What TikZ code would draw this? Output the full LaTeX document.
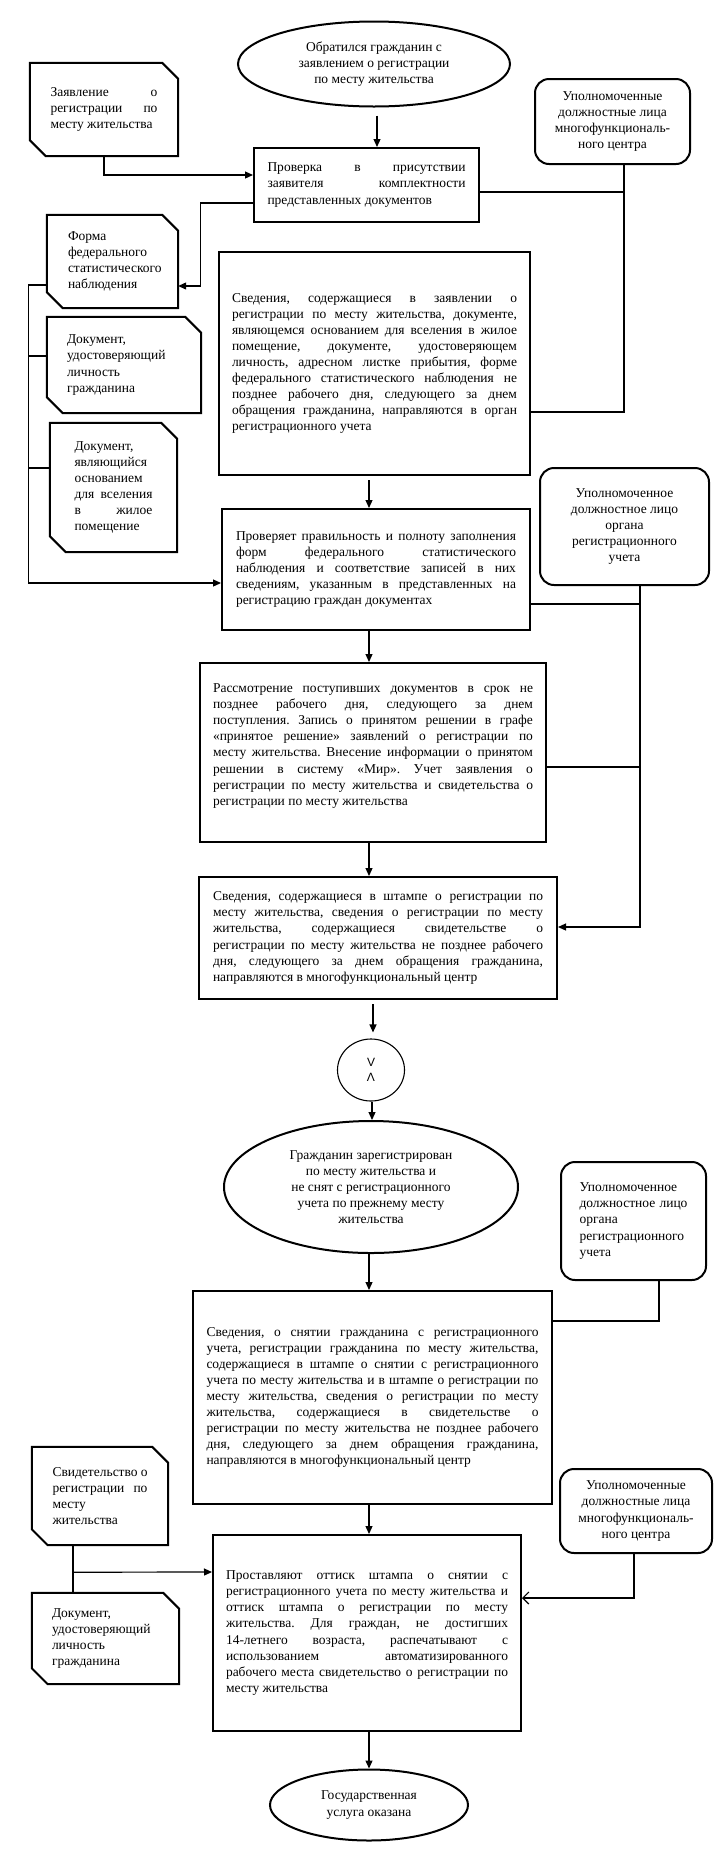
\documentclass[tikz,border=0pt]{standalone}
\usepackage{fontspec}
\setmainfont{Liberation Serif}
\newfontfamily\sansf{Liberation Sans}
\usetikzlibrary{shapes.geometric,arrows.meta,calc}
\frenchspacing
\newcommand\fsz{\fontsize{13.5}{16.1}\selectfont\frenchspacing\tolerance=10000\hyphenpenalty=10000\relax}
\newcommand\chamf[1]{\draw[boxline] (#1.north west) -- ([xshift=-16pt]#1.north east) -- ([yshift=-16pt]#1.north east) -- (#1.south east) -- ([xshift=16pt]#1.south west) -- ([yshift=16pt]#1.south west) -- cycle;}
\begin{document}
\begin{tikzpicture}[x=1pt,y=-1pt,
 boxline/.style={line width=2pt, line join=miter},
 base/.style={inner sep=0pt, font=\fsz},
 rbox/.style={base, draw, boxline, rectangle, align=justify},
 doc/.style={base, rectangle},
 rnd/.style={base, draw, boxline, rectangle, rounded corners=14pt, align=center},
 oval/.style={base, draw, line width=2pt, ellipse, align=center},
 conn/.style={line width=1.2pt},
 arr/.style={conn, -{Triangle[length=8pt,width=7pt]}},
 arro/.style={conn, -{Straight Barb[length=6pt,width=12pt]}},
]
\useasboundingbox (0,0) rectangle (725,1853);

% ---- nodes ----
\node[oval, minimum width=272pt, minimum height=85pt] (e1) at (374,64)
 {Обратился гражданин с\\заявлением о регистрации\\по месту жительства};

\node[doc, align=justify, text width=107pt, minimum width=148pt, minimum height=93pt] (z) at (104,109.5)
 {Заявление о\linebreak регистрации по\linebreak месту жительства};
\chamf{z}

\node[rnd, minimum width=155pt, minimum height=85pt] (u1) at (612.5,121.5)
 {Уполномоченные\\должностные лица\\многофункциональ-\\ного центра};

\node[rbox, text width=198pt, minimum width=225pt, minimum height=74pt] (p1) at (366.5,185)
 {Проверка в присутствии\linebreak заявителя комплектности\linebreak представленных документов};

\node[doc, align=left, text width=89pt, minimum width=131pt, minimum height=93pt] (f) at (112.5,261.5)
 {Форма\\федерального\\статистического\\наблюдения};
\chamf{f}

\node[doc, align=left, text width=114pt, minimum width=154pt, minimum height=96pt] (d2) at (124,365)
 {Документ,\\удостоверяющий\\личность\\гражданина};
\chamf{d2}

\node[doc, align=justify, text width=78pt, minimum width=127pt, minimum height=129pt] (d3) at (113.5,487.5)
 {Документ,\linebreak являющийся\linebreak основанием\linebreak для вселения\linebreak в жилое\linebreak помещение};
\chamf{d3}

\node[rbox, text width=285pt, minimum width=311pt, minimum height=223pt] (s1) at (374.5,363.5)
 {Сведения, содержащиеся в заявлении о\linebreak регистрации по месту жительства, документе,\linebreak являющемся основанием для вселения в жилое\linebreak помещение, документе, удостоверяющем\linebreak личность, адресном листке прибытия, форме\linebreak федерального статистического наблюдения не\linebreak позднее рабочего дня, следующего за днем\linebreak обращения гражданина, направляются в орган\linebreak регистрационного учета};

\node[rnd, minimum width=169pt, minimum height=117pt] (u2) at (624.5,526.5)
 {Уполномоченное\\должностное лицо\\органа\\регистрационного\\учета};

\node[rbox, text width=280pt, minimum width=308pt, minimum height=121pt] (c) at (376,569.5)
 {Проверяет правильность и полноту заполнения\linebreak форм федерального статистического\linebreak наблюдения и соответствие записей в них\linebreak сведениям, указанным в представленных на\linebreak регистрацию граждан документах};

\node[rbox, text width=320pt, minimum width=346pt, minimum height=179pt] (r) at (373,752.5)
 {Рассмотрение поступивших документов в срок не\linebreak позднее рабочего дня, следующего за днем\linebreak поступления. Запись о принятом решении в графе\linebreak «принятое решение» заявлений о регистрации по\linebreak месту жительства. Внесение информации о принятом\linebreak решении в систему «Мир». Учет заявления о\linebreak регистрации по месту жительства и свидетельства о\linebreak регистрации по месту жительства\par\mbox{}};

\node[rbox, text width=330pt, minimum width=358pt, minimum height=122pt] (st) at (378,938)
 {Сведения, содержащиеся в штампе о регистрации по\linebreak месту жительства, сведения о регистрации по месту\linebreak жительства, содержащиеся свидетельстве о\linebreak регистрации по месту жительства не позднее рабочего\linebreak дня, следующего за днем обращения гражданина,\linebreak направляются в многофункциональный центр};

\node[base, draw, line width=1.1pt, ellipse, align=center, minimum width=67pt, minimum height=62pt, font=\sansf\fontsize{12}{15}\selectfont] (cr) at (371,1070)
 {V\\Λ};

\node[oval, minimum width=294pt, minimum height=132pt] (e2) at (371,1187)
 {Гражданин зарегистрирован\\по месту жительства и\\не снят с регистрационного\\учета по прежнему месту\\жительства};

\node[rnd, align=justify, text width=108pt, minimum width=145pt, minimum height=118pt] (u3) at (633.5,1221)
 {Уполномоченное\linebreak должностное лицо\linebreak органа\linebreak регистрационного\linebreak учета};

\node[rbox, text width=332pt, minimum width=359pt, minimum height=213pt] (sn) at (372.5,1397.5)
 {Сведения, о снятии гражданина с регистрационного\linebreak учета, регистрации гражданина по месту жительства,\linebreak содержащиеся в штампе о снятии с регистрационного\linebreak учета по месту жительства и в штампе о регистрации по\linebreak месту жительства, сведения о регистрации по месту\linebreak жительства, содержащиеся в свидетельстве о\linebreak регистрации по месту жительства не позднее рабочего\linebreak дня, следующего за днем обращения гражданина,\linebreak направляются в многофункциональный центр};

\node[doc, align=justify, text width=95pt, minimum width=136pt, minimum height=98pt] (sv) at (100,1496)
 {Свидетельство о\linebreak регистрации по\linebreak месту\linebreak жительства};
\chamf{sv}

\node[rnd, minimum width=152pt, minimum height=84pt] (u4) at (636,1511)
 {Уполномоченные\\должностные лица\\многофункциональ-\\ного центра};

\node[doc, align=left, text width=107pt, minimum width=147pt, minimum height=91pt] (d4) at (105.5,1638.5)
 {Документ,\\удостоверяющий\\личность\\гражданина};
\chamf{d4}

\node[rbox, text width=282pt, minimum width=308pt, minimum height=196pt] (pr) at (367,1633)
 {Проставляют оттиск штампа о снятии с\linebreak регистрационного учета по месту жительства и\linebreak оттиск штампа о регистрации по месту\linebreak жительства. Для граждан, не достигших\linebreak 14-летнего возраста, распечатывают с\linebreak использованием автоматизированного\linebreak рабочего места свидетельство о регистрации по\linebreak месту жительства};

\node[oval, minimum width=198pt, minimum height=71pt] (e3) at (369,1805)
 {Государственная\\услуга оказана};

% ---- connectors ----
\draw[arr, shorten <=8pt] ([xshift=3pt]e1.south) -- ([xshift=3pt]e1.south |- p1.north);
\draw[arr] (z.south) |- ($(p1.west)+(0,-10)$);
\draw[conn] ($(u1.south)+(11.5,0)$) |- ($(s1.east)+(0,48.5)$);
\draw[conn] ($(p1.east)+(0,7)$) -| ($(u1.south)+(11.5,0)$);
\draw[arr] ($(p1.west)+(0,18)$) -| ($(f.east)+(22,24.5)$) -- ($(f.east)+(0,24.5)$);
\draw[arr] ($(f.west)+(0,23.5)$) -- ++(-18,0) |- ($(c.west)+(0,13.5)$);
\draw[conn] ($(d2.west)+(0,-9)$) -- ++(-18,0);
\draw[conn] ($(d3.west)+(0,-19.5)$) -- ++(-21,0);
\draw[arr, shorten <=4pt] ([xshift=-5.5pt]s1.south) -- ([xshift=-5.5pt]s1.south |- c.north);
\draw[conn] ($(c.east)+(0,34.5)$) -| ($(u2.south)+(15.5,0)$);
\draw[conn] ($(r.east)+(0,14.5)$) -| ($(u2.south)+(15.5,0)$);
\draw[arr] ($(u2.south)+(15.5,0)$) |- ($(st.east)+(0,-11)$);
\draw[arr] ([xshift=-7pt]c.south) -- ([xshift=-7pt]c.south |- r.north);
\draw[arr] ([xshift=-4pt]r.south) -- ([xshift=-4pt]r.south |- st.north);
\draw[arr, shorten <=4pt, shorten >=6pt] ([xshift=-5pt]st.south) -- ([xshift=-5pt]st.south |- cr.north);
\draw[arr] ([xshift=1pt]cr.south) -- ([xshift=1pt]cr.south |- e2.north);
\draw[arr] ([xshift=-2pt]e2.south) -- ([xshift=-2pt]e2.south |- sn.north);
\draw[conn] ($(u3.south)+(25.5,0)$) |- ($(sn.east)+(0,-76.5)$);
\draw[arr] ([xshift=-3.5pt]sn.south) -- ([xshift=-3.5pt]sn.south |- pr.north);
\draw[conn] ($(sv.south)+(-27,0)$) -- ($(d4.north)+(-32.5,0)$);
\draw[arr] ($(sv.south)+(-27,27)$) -- ($(pr.west)+(0,-61)$);
\draw[arro] ($(u4.south)+(-2,0)$) |- ($(pr.east)+(0,-35)$);
\draw[arr] ([xshift=2pt]pr.south) -- ([xshift=2pt]pr.south |- e3.north);
\end{tikzpicture}
\end{document}
